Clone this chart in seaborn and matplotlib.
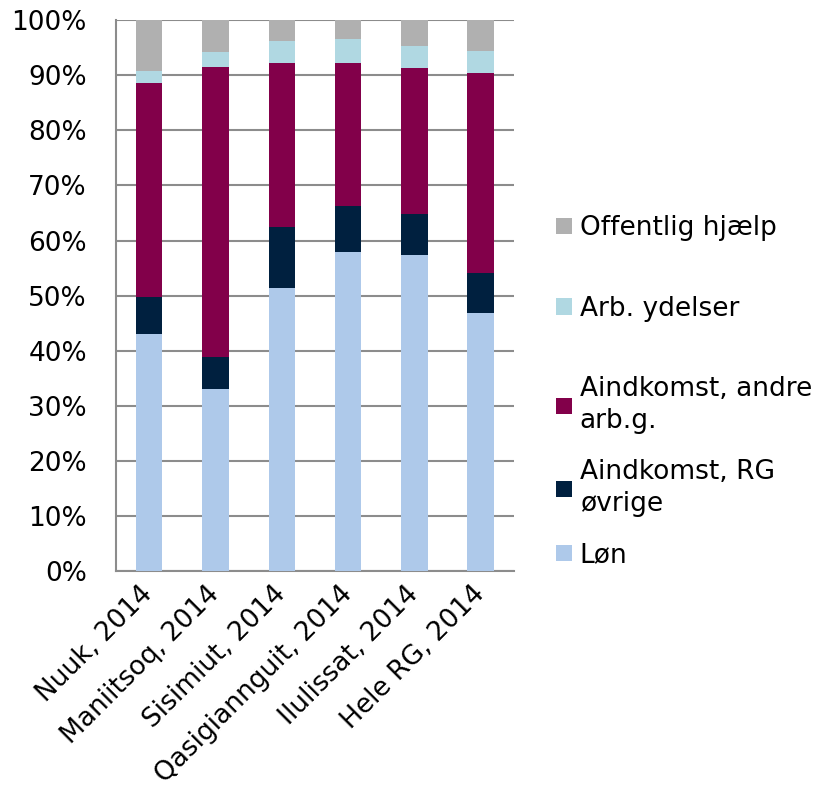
import numpy as np
import pandas as pd
import matplotlib
matplotlib.use("Agg")
import matplotlib.pyplot as plt
import seaborn as sns
from matplotlib.patches import Patch
from matplotlib.ticker import PercentFormatter

# --- Data (shares in %) ---
places = ["Nuuk, 2014", "Maniitsoq, 2014", "Sisimiut, 2014",
          "Qasigiannguit, 2014", "Ilulissat, 2014", "Hele RG, 2014"]
loen = [43.1, 33.0, 51.3, 57.9, 57.3, 46.9]
rg_ovrige = [6.7, 5.8, 11.2, 8.4, 7.5, 7.2]
andre_arbg = [38.8, 52.8, 29.7, 25.9, 26.5, 36.3]
arb_ydelser = [2.2, 2.7, 4.1, 4.4, 4.1, 4.1]
offentlig = [9.2, 5.7, 3.7, 3.4, 4.6, 5.5]

series = ["Løn", "Aindkomst, RG\nøvrige", "Aindkomst, andre\narb.g.",
          "Arb. ydelser", "Offentlig hjælp"]
colors = ["#aec9ea", "#00203f", "#82004a", "#b0d8e2", "#b0b0b0"]

df = pd.DataFrame({"sted": places, series[0]: loen, series[1]: rg_ovrige,
                   series[2]: andre_arbg, series[3]: arb_ydelser,
                   series[4]: offentlig})

# cumulative tops, so each layer is drawn over the one above it
cum = df[series].cumsum(axis=1)

sns.set_style("white")
plt.rcParams["font.family"] = ["DejaVu Sans"]
plt.rcParams["text.color"] = "black"
plt.rcParams["xtick.color"] = "black"
plt.rcParams["ytick.color"] = "black"

fs = 19
grey = "#8c8c8c"

fig = plt.figure(figsize=(8.17, 7.97), dpi=100)
ax = fig.add_axes([0.142, 0.2836, 0.487, 0.691])

for name, col in reversed(list(zip(series, colors))):
    sns.barplot(x=df["sted"], y=cum[name], color=col, width=0.4,
                saturation=1, linewidth=0, ax=ax, zorder=3)

ax.set_ylim(0, 100)
ax.set_xlim(-0.5, len(places) - 0.5)
ax.set_yticks(np.arange(0, 101, 10))
ax.yaxis.set_major_formatter(PercentFormatter(decimals=0))
ax.yaxis.grid(True, color=grey, linewidth=1.5, zorder=0)
ax.set_axisbelow(True)
ax.set_xlabel("")
ax.set_ylabel("")

for s in ["top", "right"]:
    ax.spines[s].set_visible(False)
for s in ["left", "bottom"]:
    ax.spines[s].set_color(grey)
    ax.spines[s].set_linewidth(1.5)

# category boundary ticks on x, labels at centres
ax.set_xticks(np.arange(len(places)))
ax.set_xticklabels(places, rotation=45, ha="right", va="center",
                   rotation_mode="anchor", fontsize=fs)
ax.set_xticks(np.arange(len(places) + 1) - 0.5, minor=True)
ax.tick_params(axis="x", which="major", length=0, pad=14)
ax.tick_params(axis="x", which="minor", length=5, width=1.5,
               color=grey, direction="out")
ax.tick_params(axis="y", length=5, width=1.5, color=grey,
               direction="out", labelsize=fs, pad=16)

handles = [Patch(facecolor=c, edgecolor="none", label=l)
           for l, c in zip(series, colors)]
leg_kw = dict(frameon=False, fontsize=fs, handlelength=0.6, handleheight=0.6,
              handletextpad=0.3, borderpad=0, borderaxespad=0,
              loc="upper left", bbox_transform=fig.transFigure)
leg1 = ax.legend(handles=[handles[4], handles[3]], labelspacing=2.07,
                 bbox_to_anchor=(0.6805, 0.7299), **leg_kw)
ax.add_artist(leg1)
leg2 = ax.legend(handles=[handles[2], handles[1], handles[0]],
                 labelspacing=0.95, bbox_to_anchor=(0.6805, 0.5279), **leg_kw)
for t in leg2.get_texts():
    t.set_linespacing(1.3)

fig.savefig("out.png", dpi=100)
